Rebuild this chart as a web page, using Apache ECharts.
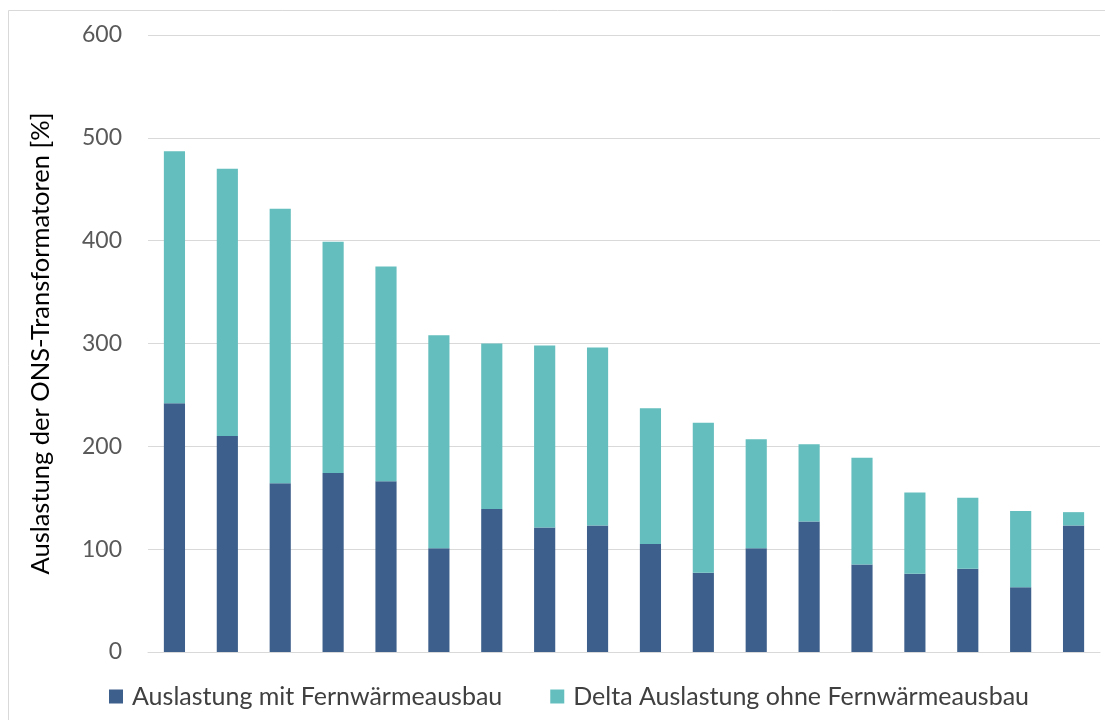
<!DOCTYPE html>
<html>
<head>
<meta charset="utf-8">
<script src="https://cdn.jsdelivr.net/npm/echarts@6/dist/echarts.min.js"></script>
<style>
html,body{margin:0;padding:0;background:#fff;}
#chart{width:1105px;height:720px;}
</style>
</head>
<body>
<div id="chart"></div>
<script>
const categories = ['1','2','3','4','5','6','7','8','9','10','11','12','13','14','15','16','17','18'];
const mitFernwaerme = [242,210,164,174,166,101,139,121,123,105,77,101,127,85,76,81,63,123];
const deltaOhne = [245,260,267,225,209,207,161,177,173,132,146,106,75,104,79,69,74,13];
const seriesNames = ['Auslastung mit Fernwärmeausbau','Delta Auslastung ohne Fernwärmeausbau'];
const yTitle = 'Auslastung der ONS-Transformatoren [%]';

const chart = echarts.init(document.getElementById('chart'));
chart.setOption({
  animation: false,
  backgroundColor: '#fff',
  graphic: [{
    type: 'rect', silent: true,
    shape: {x: 8.5, y: 10.5, width: 1200, height: 800},
    style: {fill: 'none', stroke: '#d9d9d9', lineWidth: 1}
  }],
  grid: {left: 148, right: 5, top: 35, bottom: 68},
  legend: {
    bottom: 6, left: 104,
    itemWidth: 14, itemHeight: 14, itemGap: 48,
    icon: 'rect',
    textStyle: {fontFamily: 'Lato', fontSize: 25, color: '#404040', padding: [0, 0, 0, 4]},
    data: seriesNames
  },
  xAxis: {
    type: 'category', data: categories,
    axisLine: {show: true, lineStyle: {color: '#d9d9d9'}},
    axisTick: {show: false}, axisLabel: {show: false}
  },
  yAxis: {
    type: 'value', min: 0, max: 600, interval: 100,
    name: yTitle, nameLocation: 'middle', nameGap: 94,
    nameTextStyle: {fontFamily: 'Lato', fontSize: 25.5, color: '#000'},
    axisLine: {show: false}, axisTick: {show: false},
    axisLabel: {fontFamily: 'Lato', fontSize: 23, color: '#595959', margin: 26},
    splitLine: {lineStyle: {color: '#d9d9d9', width: 1}}
  },
  series: [
    {name: seriesNames[0], type: 'bar', stack: 's', data: mitFernwaerme, barWidth: '40%',
     itemStyle: {color: '#3d5f8b'}},
    {name: seriesNames[1], type: 'bar', stack: 's', data: deltaOhne, barWidth: '40%',
     itemStyle: {color: '#64bebe'}}
  ]
});
</script>
</body>
</html>
